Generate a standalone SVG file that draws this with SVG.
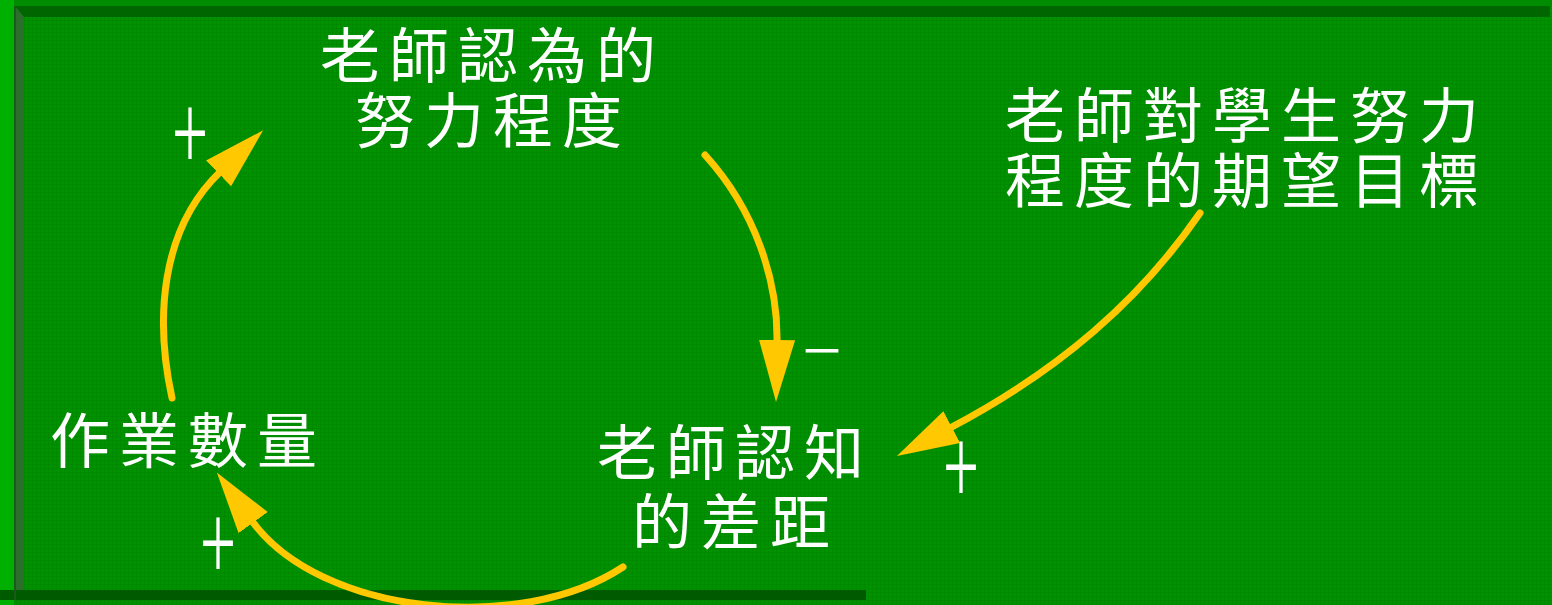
<svg xmlns="http://www.w3.org/2000/svg" width="1552" height="605" viewBox="0 0 1552 605">
  <style>
    .lbl { font-family: "Noto Sans CJK TC", "Noto Sans CJK SC", sans-serif; font-size: 60px; fill: #ffffff; letter-spacing: 9px; }
    .sign { font-family: "Liberation Serif", serif; font-size: 76px; fill: #ffffff; text-anchor: middle; }
    .minus { font-family: "Liberation Serif", serif; font-size: 70px; fill: #ffffff; text-anchor: middle; }
    .conn { fill: none; stroke: #ffc800; stroke-width: 7; stroke-linecap: round; }
  </style>
  <defs>
    <pattern id="grid" width="4" height="4" patternUnits="userSpaceOnUse">
      <rect width="4" height="4" fill="#009200"/>
      <rect width="4" height="1" fill="#008600" opacity="0.7"/>
      <rect width="1" height="4" fill="#008600" opacity="0.7"/>
    </pattern>
    <marker id="head" markerUnits="userSpaceOnUse" markerWidth="70" markerHeight="40" refX="2" refY="18" orient="auto">
      <path d="M0,0 L62,18 L0,36 Z" fill="#ffc800"/>
    </marker>
  </defs>

  <!-- background -->
  <rect x="0" y="0" width="1552" height="605" fill="#008c00"/>
  <rect x="15" y="6" width="1537" height="599" fill="url(#grid)"/>
  <rect x="0" y="0" width="14" height="605" fill="#00b000"/>
  <polygon points="15,6 24,17 24,590 15,600" fill="#2c6f2c"/>
  <polygon points="15,6 1550,6 1550,17 24,17" fill="#006600"/>
  <rect x="0" y="590" width="866" height="10" fill="#005a00"/>
  <rect x="14" y="6" width="2" height="594" fill="#1a5a1a"/>

  <g id="connectors">
    <path class="conn" d="M172,398 C155,320 160,230 220,172" marker-end="url(#head)"/>
    <path class="conn" d="M705,155 C755,210 778,280 777,342" marker-end="url(#head)"/>
    <path class="conn" d="M1200,213 C1140,300 1060,370 950,428" marker-end="url(#head)"/>
    <path class="conn" d="M623,567 C520,635 320,615 252,521" marker-end="url(#head)"/>
    <text class="sign" transform="translate(190,170) scale(0.84,1.45)">+</text>
    <text class="minus" transform="translate(822,374)">−</text>
    <text class="sign" transform="translate(961,504) scale(0.84,1.45)">+</text>
    <text class="sign" transform="translate(218,580) scale(0.84,1.45)">+</text>
  </g>

  <g id="node-effort">
    <text class="lbl"><tspan x="320" y="78">老師認為的</tspan><tspan x="355" y="143">努力程度</tspan></text>
  </g>
  <g id="node-goal">
    <text class="lbl"><tspan x="1005" y="138">老師對學生努力</tspan><tspan x="1005" y="203">程度的期望目標</tspan></text>
  </g>
  <g id="node-homework">
    <text class="lbl" x="50" y="463">作業數量</text>
  </g>
  <g id="node-gap">
    <text class="lbl"><tspan x="597" y="475">老師認知</tspan><tspan x="632" y="544">的差距</tspan></text>
  </g>
</svg>
